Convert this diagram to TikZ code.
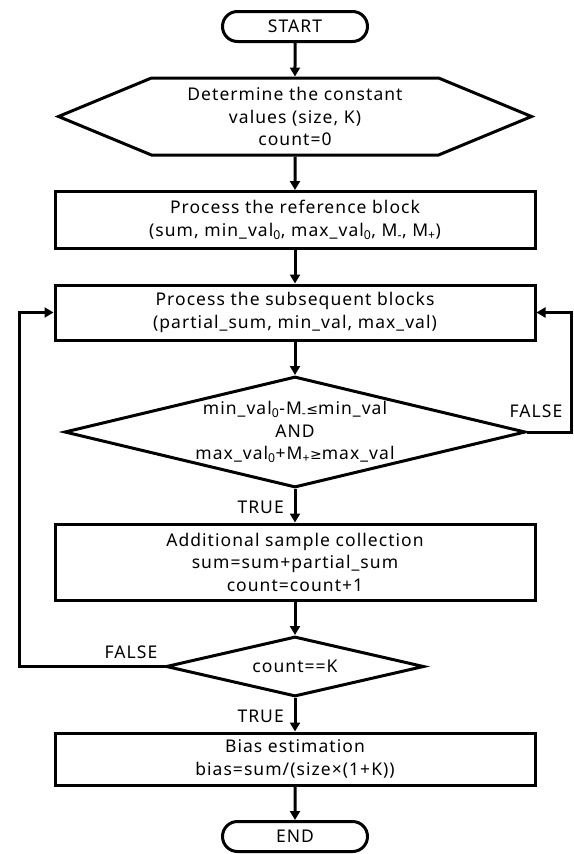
\documentclass[tikz,border=0pt]{standalone}
\usepackage{fontspec}
\setmainfont{Noto Sans}[LetterSpace=6]
\newfontfamily\symfont{DejaVu Sans}
\usetikzlibrary{shapes,arrows.meta,positioning}
\def\Txt{\fontsize{17.5pt}{22.5pt}\selectfont}

\begin{document}
\begin{tikzpicture}[x=1pt,y=1pt,% styles for the whole chart
		every node/.style={
			align=center,		% so that "\\" breaks the line
			font=\Txt,
			inner sep=0pt
		},
		node distance=33.5pt,
		term/.style={rounded rectangle,draw,line width=3pt,minimum width=145pt,minimum height=30pt},
		prep/.style={signal,signal to=west and east,signal pointer angle=45,draw,line width=3pt,minimum width=473pt,minimum height=77pt},
		block/.style={rectangle,draw,line width=3pt,minimum width=480pt},
		decision/.style={diamond,draw,line width=3pt},
		every edge/.style={draw,line width=3pt,-{Triangle[length=9pt,width=10pt]}}
	]
	\useasboundingbox (0,0) rectangle (573,-854);
	\node[term](R1) at (295,-26.5){START};
	\node[prep](R2)[below= of R1]{Determine the constant\\values (size, K)\\count=0};
	\node[block,minimum height=57pt](R3)[below= of R2]{Process the reference block\\(sum, min\_val\textsubscript{0}, max\_val\textsubscript{0}, M\textsubscript{-}, M\textsubscript{+})};
	\node[block,minimum height=55pt](R4)[below= of R3]{Process the subsequent blocks\\(partial\_sum, min\_val, max\_val)};
	\node[decision,minimum width=461pt,minimum height=111pt](R5)[below= of R4]{};
	\node(C1) at (R5){min\_val\textsubscript{0}-M\textsubscript{-}{\symfont\fontsize{14pt}{14pt}\selectfont ≤}min\_val\\AND\\max\_val\textsubscript{0}+M\textsubscript{+}{\symfont\fontsize{14pt}{14pt}\selectfont ≥}max\_val};
	\node[block,minimum height=76pt](R6)[below= of R5]{Additional sample collection\\sum=sum+partial\_sum\\count=count+1};
	\node[decision,minimum width=258pt,minimum height=60pt](R7)[below= of R6]{};
	\node(C2) at (R7){count==K};
	\node[block,minimum height=52pt](R8)[below= of R7]{Bias estimation\\bias=sum/(size×(1+K))};
	\node[term](R9)[below= of R8]{END};
	% yes / no labels
	\node[anchor=base east](T1) at ([xshift=-11pt,yshift=-24pt]R5.south){TRUE};
	\node[anchor=base east](T2) at ([xshift=-11pt,yshift=-24pt]R7.south){TRUE};
	\node[anchor=base](F1) at ([xshift=9pt,yshift=15pt]R5.east){FALSE};
	\node[anchor=base east](F2) at ([xshift=-7pt,yshift=8pt]R7.west){FALSE};
	% loop corners
	\coordinate[left=34pt of R4.west](L1);
	\coordinate[right=35pt of R4.east](L2);
	\path
	(R1)edge (R2)
	(R2)edge (R3)
	(R3)edge (R4)
	(R4)edge (R5)
	(R5)edge (R6)
	(R6)edge (R7)
	(R7)edge (R8)
	(R8)edge (R9)
	;
	\draw[line width=3pt,-{Triangle[length=9pt,width=10pt]}] (R7.west) -| (L1) -- (R4.west);
	\draw[line width=3pt,-{Triangle[length=9pt,width=10pt]}] (R5.east) -| (L2) -- (R4.east);
\end{tikzpicture}
\end{document}
